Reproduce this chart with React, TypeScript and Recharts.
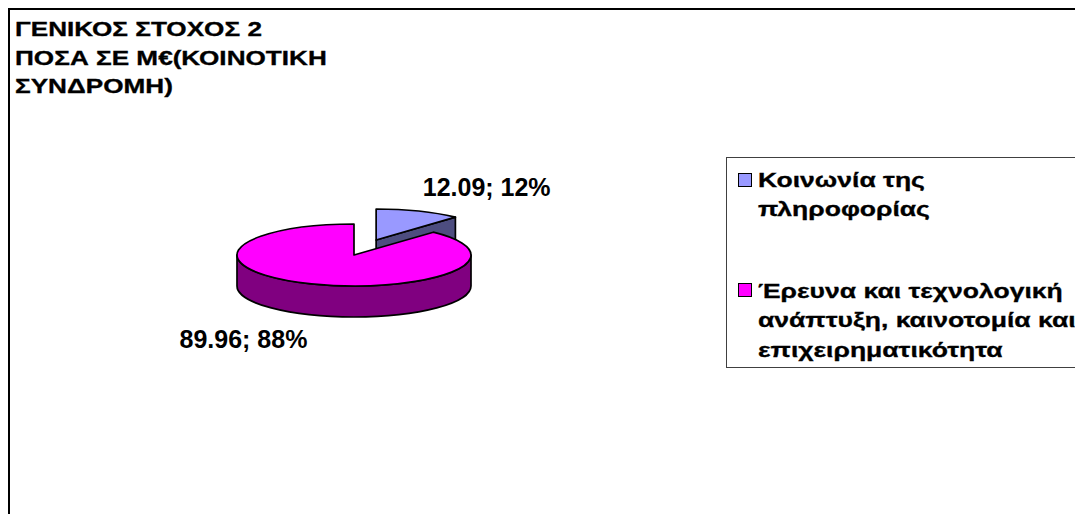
import React from 'react';
import { PieChart, Pie, Cell, Legend } from 'recharts';

const CATEGORIES = [
  'Κοινωνία της πληροφορίας',
  'Έρευνα και τεχνολογική ανάπτυξη, καινοτομία και επιχειρηματικότητα',
];
const VALUES = [12.09, 89.96];
const LEGEND_LINES = [
  ['Κοινωνία της', 'πληροφορίας'],
  ['Έρευνα και τεχνολογική', 'ανάπτυξη, καινοτομία και', 'επιχειρηματικότητα'],
];
const TITLE_LINES = ['ΓΕΝΙΚΟΣ ΣΤΟΧΟΣ 2', 'ΠΟΣΑ ΣΕ Μ€(ΚΟΙΝΟΤΙΚΗ', 'ΣΥΝΔΡΟΜΗ)'];
const TOP_COLORS = ['#9999FF', '#FF00FF'];
const SIDE_COLORS = ['#4D4D80', '#800080'];
const EXPLODE = [0.52, 0];

const data = CATEGORIES.map((name, i) => ({ name, value: VALUES[i] }));

const FONT = '"Liberation Sans", Arial, sans-serif';
const TILT = 0.265;
const DEPTH = 31;
const SW = 1.7;
const TITLE_STRETCH = 1.34;
const LEGEND_STRETCH = 1.36;

const rad = (d: number) => (d * Math.PI) / 180;

function renderSlice(props: any) {
  const { cx, cy, outerRadius, startAngle, endAngle, index, value, percent } = props;
  const rx = outerRadius;
  const ry = outerRadius * TILT;
  const s = Math.max(startAngle, endAngle);
  const e = Math.min(startAngle, endAngle);
  const m = (s + e) / 2;
  const k = EXPLODE[index] || 0;
  const ox = cx + k * rx * Math.cos(rad(m));
  const oy = cy - k * ry * Math.sin(rad(m));
  const P = (t: number): [number, number] => [ox + rx * Math.cos(rad(t)), oy - ry * Math.sin(rad(t))];

  const faces: React.ReactNode[] = [];
  const [sx, sy] = P(s);
  const [ex, ey] = P(e);
  if (Math.cos(rad(e)) > 1e-6) {
    faces.push(
      <path key="fe" d={`M${ox},${oy} L${ex},${ey} L${ex},${ey + DEPTH} L${ox},${oy + DEPTH} Z`}
        fill={SIDE_COLORS[index]} stroke="#000" strokeWidth={SW} strokeLinejoin="round" />
    );
  }
  if (Math.cos(rad(s)) < -1e-6) {
    faces.push(
      <path key="fs" d={`M${ox},${oy} L${sx},${sy} L${sx},${sy + DEPTH} L${ox},${oy + DEPTH} Z`}
        fill={SIDE_COLORS[index]} stroke="#000" strokeWidth={SW} strokeLinejoin="round" />
    );
  }
  for (let j = -2; j <= 1; j++) {
    const lo = Math.max(e, -180 + 360 * j);
    const hi = Math.min(s, 360 * j);
    if (hi - lo > 1e-6) {
      const [ax, ay] = P(hi);
      const [bx, by] = P(lo);
      faces.push(
        <path key={`r${j}`}
          d={`M${ax},${ay} A${rx},${ry} 0 0 1 ${bx},${by} L${bx},${by + DEPTH} A${rx},${ry} 0 0 0 ${ax},${ay + DEPTH} Z`}
          fill={SIDE_COLORS[index]} stroke="#000" strokeWidth={SW} strokeLinejoin="round" />
      );
    }
  }
  const large = s - e > 180 ? 1 : 0;
  const top = `M${ox},${oy} L${sx},${sy} A${rx},${ry} 0 ${large} 1 ${ex},${ey} Z`;

  const cm = Math.cos(rad(m));
  const sm = Math.sin(rad(m));
  const [px, py0] = P(m);
  const py = sm < 0 ? py0 + DEPTH : py0;
  const lx = px + 68 * Math.sign(cm);
  const ly = py - 24 * Math.sign(sm) + 9;
  const text = `${value.toFixed(2)}; ${Math.round(percent * 100)}%`;

  return (
    <g key={`slice-${index}`}>
      {faces}
      <path d={top} fill={TOP_COLORS[index]} stroke="#000" strokeWidth={SW} strokeLinejoin="round" />
      <text x={lx} y={ly} textAnchor="middle" fontFamily={FONT} fontSize={25} fontWeight="bold" fill="#000">
        {text}
      </text>
    </g>
  );
}

const SQUARE_TOPS = [15, 125];
const TEXT_TOPS = [7.5, 118.5];

function renderLegend(props: any) {
  const payload = props.payload || [];
  return (
    <div
      style={{
        boxSizing: 'border-box',
        width: 356,
        height: 211,
        border: '1px solid #404040',
        position: 'relative',
        background: '#fff',
        fontFamily: FONT,
        fontWeight: 700,
        fontSize: 19.5,
        color: '#000',
        WebkitTextStroke: '0.3px #000',
      }}
    >
      {payload.map((entry: any, i: number) => {
        const idx = CATEGORIES.indexOf(entry.value) >= 0 ? CATEGORIES.indexOf(entry.value) : i;
        return (
          <React.Fragment key={idx}>
            <div
              style={{
                position: 'absolute',
                left: 11,
                top: SQUARE_TOPS[idx],
                width: 12,
                height: 12,
                border: '1px solid #000',
                background: TOP_COLORS[idx],
              }}
            />
            <div style={{ position: 'absolute', left: 31, top: TEXT_TOPS[idx], lineHeight: '29.5px', whiteSpace: 'nowrap' }}>
              {LEGEND_LINES[idx].map((ln: string, j: number) => (
                <div key={j} style={{ transform: `scaleX(${LEGEND_STRETCH})`, transformOrigin: 'left center' }}>
                  {ln}
                </div>
              ))}
            </div>
          </React.Fragment>
        );
      })}
    </div>
  );
}

export default function App() {
  return (
    <div style={{ position: 'relative', width: 1075, height: 506, overflow: 'hidden', background: '#fff' }}>
      <div
        style={{
          position: 'absolute',
          left: 0,
          top: 0,
          width: 1400,
          height: 900,
          borderLeft: '2px solid #000',
          borderTop: '2px solid #000',
        }}
      />
      <PieChart width={1075} height={506} margin={{ top: 0, right: 0, bottom: 0, left: 0 }}>
        <Pie
          data={data}
          dataKey="value"
          nameKey="name"
          cx={346}
          cy={247}
          outerRadius={117}
          startAngle={90}
          endAngle={-270}
          stroke="none"
          isAnimationActive={false}
          labelLine={false}
          label={renderSlice}
        >
          {data.map((d, i) => (
            <Cell key={d.name} fill={TOP_COLORS[i]} fillOpacity={0} stroke="none" />
          ))}
        </Pie>
        <Legend
          layout="horizontal"
          verticalAlign="middle"
          align="right"
          wrapperStyle={{ left: 718, top: 149, width: 356, height: 211 }}
          content={renderLegend}
        />
      </PieChart>
      <div
        style={{
          position: 'absolute',
          left: 7,
          top: 7,
          fontFamily: FONT,
          fontWeight: 700,
          fontSize: 19.5,
          lineHeight: '28.5px',
          color: '#000',
          whiteSpace: 'nowrap',
          zIndex: 2,
          WebkitTextStroke: '0.3px #000',
        }}
      >
        {TITLE_LINES.map((t, i) => (
          <div key={i} style={{ transform: `scaleX(${TITLE_STRETCH})`, transformOrigin: 'left center' }}>
            {t}
          </div>
        ))}
      </div>
    </div>
  );
}
